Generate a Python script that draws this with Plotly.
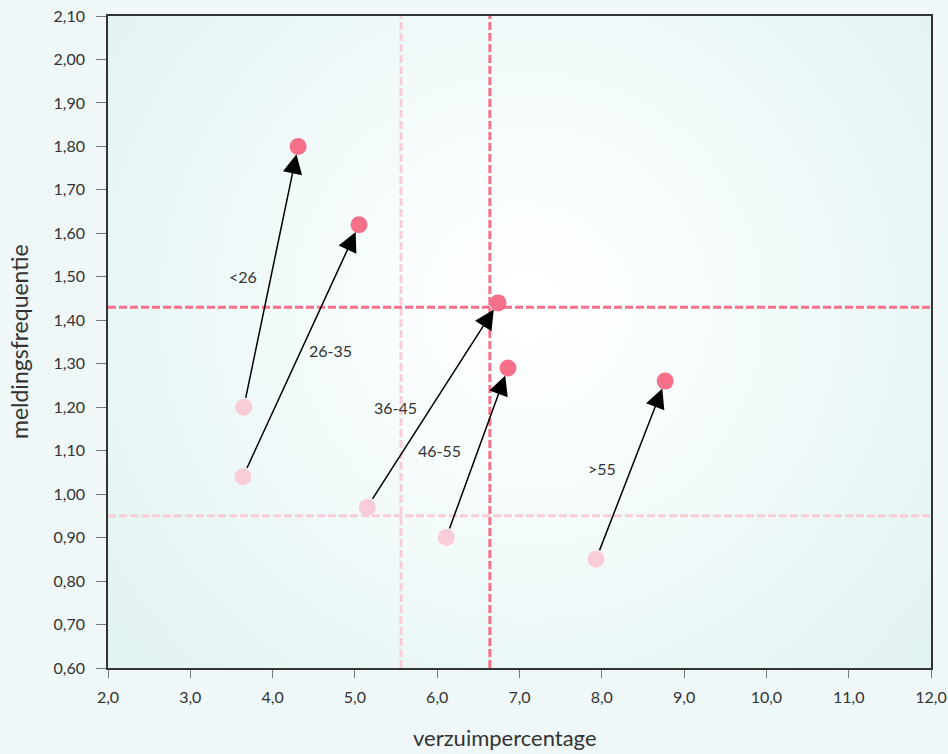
import plotly.graph_objects as go
import urllib.parse

groups = ["<26", "26-35", "36-45", "46-55", ">55"]
before_x = [3.65, 3.64, 5.15, 6.11, 7.93]
before_y = [1.20, 1.04, 0.97, 0.90, 0.85]
after_x = [4.31, 5.05, 6.74, 6.86, 8.77]
after_y = [1.80, 1.62, 1.44, 1.29, 1.26]
label_x = [3.64, 4.70, 5.49, 6.03, 8.00]
label_y = [1.50, 1.33, 1.20, 1.10, 1.06]

ref_x_before = 5.56
ref_x_after = 6.64
ref_y_before = 0.95
ref_y_after = 1.43

x_ticks = [2, 3, 4, 5, 6, 7, 8, 9, 10, 11, 12]
y_ticks = [0.6, 0.7, 0.8, 0.9, 1.0, 1.1, 1.2, 1.3, 1.4, 1.5, 1.6, 1.7, 1.8, 1.9, 2.0, 2.1]

x_title = "verzuimpercentage"
y_title = "meldingsfrequentie"

RED = "#f7708a"
PINK = "#f8cdd8"
FONT = "Lato"

svg = ('<svg xmlns="http://www.w3.org/2000/svg" width="823" height="652" viewBox="0 0 823 652" preserveAspectRatio="none">'
       '<defs><radialGradient id="g" gradientUnits="userSpaceOnUse" cx="420" cy="292" r="560">'
       '<stop offset="0" stop-color="#ffffff"/><stop offset="0.25" stop-color="#f9fdfd"/>'
       '<stop offset="1" stop-color="#e0f2f2"/>'
       '</radialGradient></defs><rect width="823" height="652" fill="url(#g)"/></svg>')
src = "data:image/svg+xml;charset=utf-8," + urllib.parse.quote(svg)

fig = go.Figure()

fig.add_trace(go.Scatter(x=before_x, y=before_y, mode="markers",
                         marker=dict(size=17, color=PINK), hoverinfo="skip", showlegend=False))
fig.add_trace(go.Scatter(x=after_x, y=after_y, mode="markers",
                         marker=dict(size=17, color=RED), hoverinfo="skip", showlegend=False))

shapes = [
    dict(type="line", xref="x", yref="paper", x0=ref_x_before, x1=ref_x_before, y0=0, y1=1,
         line=dict(color=PINK, width=3, dash="8px,3px"), layer="below"),
    dict(type="line", xref="x", yref="paper", x0=ref_x_after, x1=ref_x_after, y0=0, y1=1,
         line=dict(color=RED, width=3, dash="8px,3px"), layer="below"),
    dict(type="line", xref="paper", yref="y", x0=0, x1=1, y0=ref_y_before, y1=ref_y_before,
         line=dict(color=PINK, width=3, dash="8px,3px"), layer="below"),
    dict(type="line", xref="paper", yref="y", x0=0, x1=1, y0=ref_y_after, y1=ref_y_after,
         line=dict(color=RED, width=3, dash="8px,3px"), layer="below"),
]

annotations = []
for i, g in enumerate(groups):
    annotations.append(dict(x=after_x[i], y=after_y[i], ax=before_x[i], ay=before_y[i],
                            xref="x", yref="y", axref="x", ayref="y", text="",
                            showarrow=True, arrowhead=2, arrowsize=2.6, arrowwidth=1.5,
                            arrowcolor="#000000", standoff=8, startstandoff=8))
    annotations.append(dict(x=label_x[i], y=label_y[i], xref="x", yref="y", text=g,
                            showarrow=False, font=dict(size=16, color="#333333", family=FONT)))

annotations.append(dict(text=x_title, xref="paper", yref="paper", x=(505 - 108) / 823, y=(668 - 737) / 652,
                        xanchor="center", yanchor="middle", showarrow=False,
                        font=dict(size=22, color="#333333", family=FONT)))
annotations.append(dict(text=y_title, xref="paper", yref="paper", x=(19 - 108) / 823, y=0.5,
                        xanchor="center", yanchor="middle", textangle=-90, showarrow=False,
                        font=dict(size=23, color="#333333", family=FONT)))

fig.update_layout(
    width=948, height=754,
    margin=dict(l=108, r=17, t=16, b=86, autoexpand=False),
    paper_bgcolor="#eff7f8",
    plot_bgcolor="rgba(0,0,0,0)",
    separators=",.",
    font=dict(family=FONT, color="#333333", size=16),
    shapes=shapes,
    annotations=annotations,
    images=[dict(source=src, xref="paper", yref="paper", x=0, y=1, sizex=1, sizey=1,
                 sizing="stretch", layer="below", xanchor="left", yanchor="top")],
    xaxis=dict(range=[2, 12], tickvals=x_ticks, tickformat=".1f", showgrid=False, zeroline=False,
               showline=True, linecolor="#333333", linewidth=1.5, mirror=True, automargin=False,
               ticks="outside", ticklen=8, tickcolor="#777777", ticklabelstandoff=6,
               tickfont=dict(size=16)),
    yaxis=dict(range=[0.6, 2.1], tickvals=y_ticks, tickformat=".2f", showgrid=False, zeroline=False,
               showline=True, linecolor="#333333", linewidth=1.5, mirror=True, automargin=False,
               ticks="outside", ticklen=10, tickcolor="#777777", ticklabelstandoff=8,
               tickfont=dict(size=16)),
)

fig.write_html("out.html", config={"displayModeBar": False},
               post_script="document.body.style.margin='0';document.body.style.overflow='hidden';")
